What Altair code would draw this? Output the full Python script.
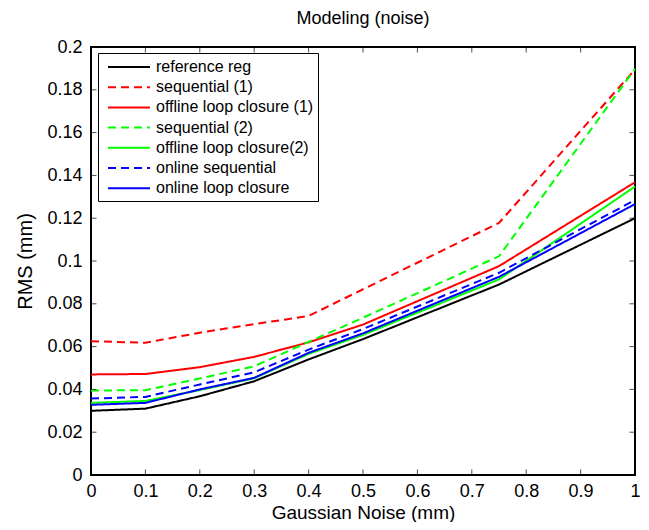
import altair as alt
import pandas as pd

noise = [0, 0.1, 0.2, 0.3, 0.4, 0.5, 0.75, 1.0]

series_names = [
    "reference reg",
    "sequential (1)",
    "offline loop closure (1)",
    "sequential (2)",
    "offline loop closure(2)",
    "online sequential",
    "online loop closure",
]

reference_reg = [0.0300, 0.0310, 0.0368, 0.0438, 0.0540, 0.0635, 0.0890, 0.1200]
sequential_1 = [0.0625, 0.0618, 0.0665, 0.0705, 0.0743, 0.0868, 0.1178, 0.1895]
offline_loop_1 = [0.0470, 0.0472, 0.0504, 0.0552, 0.0620, 0.0703, 0.0976, 0.1368]
sequential_2 = [0.0395, 0.0396, 0.0451, 0.0508, 0.0622, 0.0735, 0.1022, 0.1898]
offline_loop_2 = [0.0337, 0.0346, 0.0397, 0.0452, 0.0566, 0.0655, 0.0914, 0.1348]
online_sequential = [0.0357, 0.0365, 0.0423, 0.0480, 0.0586, 0.0682, 0.0945, 0.1285]
online_loop = [0.0328, 0.0337, 0.0400, 0.0454, 0.0571, 0.0662, 0.0926, 0.1266]

series_values = [reference_reg, sequential_1, offline_loop_1, sequential_2,
                 offline_loop_2, online_sequential, online_loop]

colors = ["#000000", "#ff0000", "#ff0000", "#00ff00", "#00ff00", "#0000ff", "#0000ff"]
dashes = [[1, 0], [8, 5], [1, 0], [8, 5], [1, 0], [8, 5], [1, 0]]

x_ticks = [0, 0.1, 0.2, 0.3, 0.4, 0.5, 0.6, 0.7, 0.8, 0.9, 1]
y_ticks = [0, 0.02, 0.04, 0.06, 0.08, 0.1, 0.12, 0.14, 0.16, 0.18, 0.2]

rows = []
for name, vals in zip(series_names, series_values):
    for x, v in zip(noise, vals):
        rows.append({"series": name, "noise": x, "rms": v})
df = pd.DataFrame(rows)

xt_df = pd.DataFrame({"noise": x_ticks})
yt_df = pd.DataFrame({"rms": y_ticks})

FONT = "Liberation Sans"

legend = alt.Legend(
    title=None,
    orient="none",
    legendX=7,
    legendY=6,
    symbolType="M-2.33,0H2.33",
    symbolSize=324,
    symbolStrokeWidth=2,
    symbolOffset=17,
    labelOffset=17,
    labelFont=FONT,
    labelFontSize=16,
    labelColor="black",
    labelLimit=300,
    padding=4,
    rowPadding=2.2,
    strokeColor="black",
    fillColor="white",
)

common_axis = dict(
    grid=False,
    domain=False,
    ticks=False,
    labelFont=FONT,
    labelColor="black",
    titleFont=FONT,
    titleColor="black",
    titleFontWeight="normal",
)

x_axis = alt.Axis(orient="bottom", values=x_ticks, format="~g",
                  title="Gaussian Noise (mm)", labelFlush=False,
                  labelPadding=7, labelFontSize=18, titleFontSize=19,
                  titlePadding=3, **common_axis)
y_axis = alt.Axis(orient="left", values=y_ticks, format="~g",
                  title="RMS (mm)", labelFlush=False,
                  labelPadding=9, labelFontSize=18, titleFontSize=20,
                  titlePadding=11, **common_axis)

xscale = alt.Scale(domain=[0, 1], nice=False, zero=False)
yscale = alt.Scale(domain=[0, 0.2], nice=False, zero=False)

lines = alt.Chart(df).mark_line(strokeWidth=2).encode(
    x=alt.X("noise:Q", scale=xscale, axis=x_axis),
    y=alt.Y("rms:Q", scale=yscale, axis=y_axis),
    color=alt.Color("series:N", scale=alt.Scale(domain=series_names, range=colors),
                    legend=legend),
    strokeDash=alt.StrokeDash("series:N",
                              scale=alt.Scale(domain=series_names, range=dashes),
                              legend=legend),
)

# inward-pointing tick marks on all four sides (clipped to the plot box)
xtick_base = alt.Chart(xt_df).mark_tick(orient="vertical", size=11, thickness=1,
                                        color="black", clip=True)
ytick_base = alt.Chart(yt_df).mark_tick(orient="horizontal", size=11, thickness=1,
                                        color="black", clip=True)

xt_bottom = xtick_base.encode(x=alt.X("noise:Q", scale=xscale, axis=x_axis),
                              y=alt.datum(0))
xt_top = xtick_base.encode(x=alt.X("noise:Q", scale=xscale, axis=x_axis),
                           y=alt.datum(0.2))
yt_left = ytick_base.encode(y=alt.Y("rms:Q", scale=yscale, axis=y_axis),
                            x=alt.datum(0))
yt_right = ytick_base.encode(y=alt.Y("rms:Q", scale=yscale, axis=y_axis),
                             x=alt.datum(1))

chart = alt.layer(lines, xt_bottom, xt_top, yt_left, yt_right).properties(
    width=544,
    height=428,
    autosize=alt.AutoSizeParams(type="none"),
    padding={"left": 83, "top": 39, "right": 6, "bottom": 47},
    background="white",
    title=alt.TitleParams("Modeling (noise)", font=FONT, fontSize=18,
                          fontWeight="normal", color="black", offset=10,
                          anchor="middle"),
).configure_view(stroke="black", strokeWidth=2)

chart.save("out.html", embed_options={"renderer": "svg", "actions": False})
